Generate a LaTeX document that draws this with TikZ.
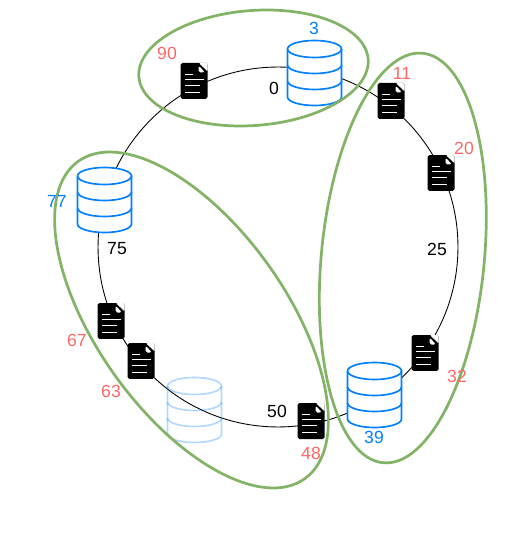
\documentclass[tikz,border=0pt]{standalone}
\usepackage{fontspec}
\setmainfont{Liberation Sans}
\usetikzlibrary{shapes.geometric}
\definecolor{groupgreen}{HTML}{82B366}
\definecolor{dbblue}{HTML}{007FFF}
\definecolor{keyred}{HTML}{FF6666}

\begin{document}
\begin{tikzpicture}[
    x=0.02cm, y=-0.02cm,
    ring/.style={draw, circle, minimum size=7.2cm, inner sep=0pt, line width=0.5pt},
    group/.style={draw=groupgreen, ellipse, inner sep=0pt, line width=1.55pt},
    dbback/.style={},
    dbbase/.style={minimum width=1.16cm, minimum height=1.4cm, inner sep=0pt,
        path picture={
            \begin{scope}[shift={(path picture bounding box.center)}, x=0.02cm, y=-0.02cm, line width=0.95pt, dbblue]
            \path[dbback] (-27,-24) arc[start angle=180, end angle=360, x radius=27, y radius=8.5] -- (27,24) arc[start angle=0, end angle=-180, x radius=27, y radius=-8.5] -- cycle;
            \path[dbback] (-27,-24) arc[start angle=180, end angle=540, x radius=27, y radius=8.5];
            \draw (-27,-24) arc[start angle=180, end angle=540, x radius=27, y radius=8.5];
            \draw (-27,-24) -- (-27,24) arc[start angle=180, end angle=360, x radius=27, y radius=-8.5] -- (27,-24);
            \draw (-27,-8) arc[start angle=180, end angle=360, x radius=27, y radius=-8.5];
            \draw (-27,8) arc[start angle=180, end angle=360, x radius=27, y radius=-8.5];
            \end{scope}
        }},
    db/.style={dbback/.style={fill=white}, dbbase},
    dbfaded/.style={dbbase, opacity=0.3},
    doc/.style={minimum width=0.54cm, minimum height=0.72cm, inner sep=0pt, fill=black, rounded corners=1pt,
        path picture={
            \begin{scope}[shift={(path picture bounding box.center)}, x=0.02cm, y=-0.02cm]
            \fill[white] (4.5,-18.5) -- (14,-18.5) -- (14,-9) -- cycle;
            \fill[white] (4.5,-15.5) -- (4.5,-8.5) -- (11,-8.5) -- cycle;
            \draw[white, line width=0.55pt] (-9,-7) -- (-1.5,-7) (-9,-1.7) -- (10,-1.7) (-9,4.7) -- (6,4.7) (-9,11) -- (6,11);
            \end{scope}
        }},
    keylabel/.style={text=keyred, font=\fontsize{10}{12}\selectfont},
    dblabel/.style={text=dbblue, font=\fontsize{10}{12}\selectfont},
    rangelabel/.style={text=black, font=\fontsize{10}{12}\selectfont}
]
\useasboundingbox (0,0) rectangle (504,536);

\node[ring] (hashring) at (278,247) {};

\node[dbfaded] (dbghost) at (194.5,410) {};
\node[db] (dbtop) at (314.5,73) {};
\node[db] (dbleft) at (104.5,200) {};
\node[db] (dbright) at (374.5,395) {};

\node[doc] (doc90) at (194,81) {};
\node[doc] (doc11) at (391,101) {};
\node[doc] (doc20) at (441,173) {};
\node[doc] (doc32) at (425,353) {};
\node[doc] (doc48) at (311,421) {};
\node[doc] (doc67) at (111,321) {};
\node[doc] (doc63) at (141,361) {};

\node[group, minimum width=4.6cm, minimum height=2.3cm, rotate=4.4] (grouptop) at (253.5,68) {};
\node[group, minimum width=8.23cm, minimum height=3.26cm, rotate=84.5] (groupright) at (402.8,258) {};
\node[group, minimum width=7.8cm, minimum height=3.78cm, rotate=-54.5] (groupleft) at (191.5,320) {};

\node[dblabel] (lab3) at (314,28) {3};
\node[dblabel] (lab77) at (57,201) {77};
\node[dblabel] (lab39) at (374,437) {39};

\node[keylabel] (lab90) at (167,53) {90};
\node[keylabel] (lab11) at (402,73) {11};
\node[keylabel] (lab20) at (464,148) {20};
\node[keylabel] (lab32) at (457,376) {32};
\node[keylabel] (lab48) at (311,453) {48};
\node[keylabel] (lab63) at (111,391) {63};
\node[keylabel] (lab67) at (77,340) {67};

\node[rangelabel] (lab0) at (274,88) {0};
\node[rangelabel] (lab25) at (437,249) {25};
\node[rangelabel] (lab50) at (277,411) {50};
\node[rangelabel] (lab75) at (117,249) {75};
\end{tikzpicture}
\end{document}
